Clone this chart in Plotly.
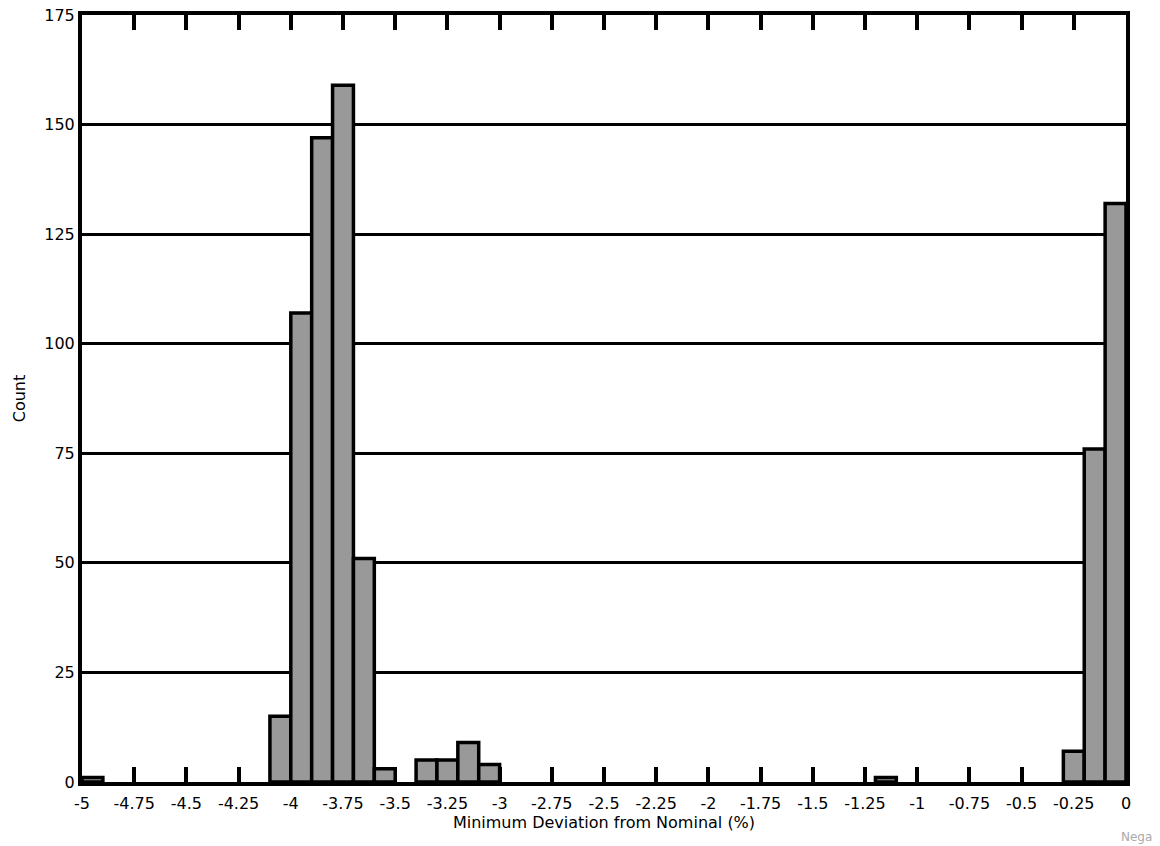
import plotly.graph_objects as go

bin_left = [-5.0, -4.1, -4.0, -3.9, -3.8, -3.7, -3.6, -3.4, -3.3, -3.2, -3.1, -1.2, -0.3, -0.2, -0.1]
counts = [1, 15, 107, 147, 159, 51, 3, 5, 5, 9, 4, 1, 7, 76, 132]
bin_width = 0.1

x_tickvals = [-5, -4.75, -4.5, -4.25, -4, -3.75, -3.5, -3.25, -3, -2.75, -2.5, -2.25, -2,
              -1.75, -1.5, -1.25, -1, -0.75, -0.5, -0.25, 0]
x_ticktext = ["-5", "-4.75", "-4.5", "-4.25", "-4", "-3.75", "-3.5", "-3.25", "-3", "-2.75", "-2.5",
              "-2.25", "-2", "-1.75", "-1.5", "-1.25", "-1", "-0.75", "-0.5", "-0.25", "0"]
y_tickvals = [0, 25, 50, 75, 100, 125, 150, 175]

centers = [b + bin_width / 2 for b in bin_left]

W, H = 1160, 846
ML, MR, MT, MB = 82, 34, 15, 64
PW, PH = W - ML - MR, H - MT - MB

fig = go.Figure(go.Bar(
    x=centers, y=counts, width=bin_width,
    marker=dict(color="#999999", line=dict(color="black", width=3.5)),
))

font = "DejaVu Sans, Liberation Sans, Arial, sans-serif"
fig.update_layout(
    width=W, height=H,
    margin=dict(l=ML, r=MR, t=MT, b=MB, pad=0),
    paper_bgcolor="white", plot_bgcolor="white",
    showlegend=False,
    font=dict(family=font, size=16, color="black"),
    xaxis=dict(
        range=[-5, 0], tickvals=x_tickvals, ticktext=x_ticktext,
        ticks="inside", ticklen=15, tickwidth=3.5, tickcolor="black",
        showline=True, linecolor="black", linewidth=4, mirror="ticks",
        showgrid=False, zeroline=False, automargin=False, layer="below traces",
        tickfont=dict(size=16), ticklabelstandoff=4,
        title=dict(text="Minimum Deviation from Nominal (%)", font=dict(size=16), standoff=4),
    ),
    yaxis=dict(
        range=[0, 175], tickvals=y_tickvals,
        ticks="", showline=True, linecolor="black", linewidth=4, mirror=True,
        showgrid=True, gridcolor="black", gridwidth=3, zeroline=False, automargin=False,
        layer="below traces",
        tickfont=dict(size=16),
        title=dict(text="Count", font=dict(size=16), standoff=16),
    ),
    annotations=[dict(
        text="Nega", xref="paper", yref="paper",
        x=(1119 - ML) / PW, y=-(837 - (MT + PH)) / PH,
        xanchor="left", yanchor="middle", showarrow=False,
        font=dict(size=12, color="#aaaaaa", family=font),
    )],
)

fig.write_html("out.html", config={"displayModeBar": False},
               post_script="document.body.style.margin='0';document.body.style.overflow='hidden';")
